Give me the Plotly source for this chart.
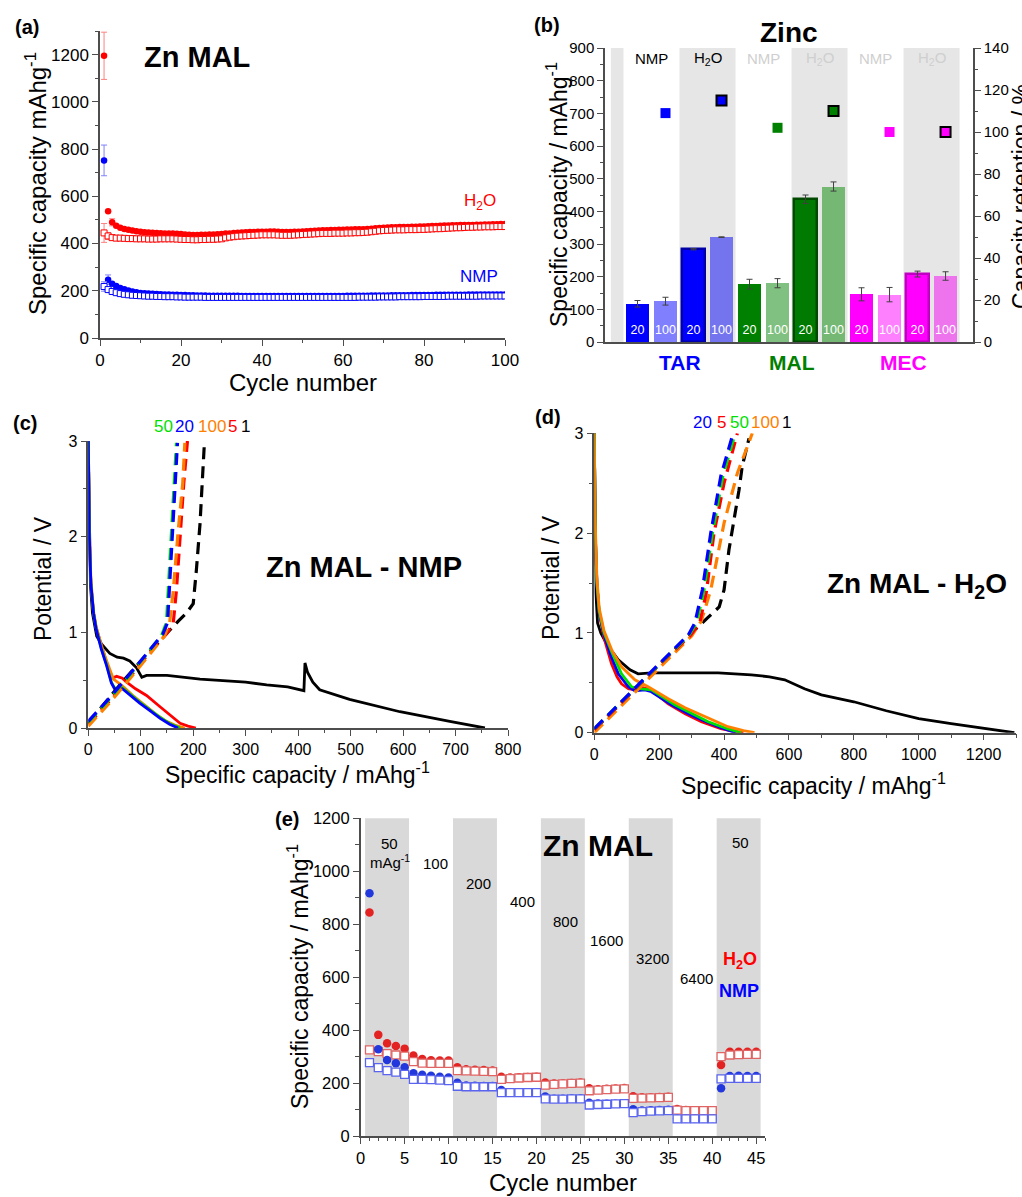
import plotly.graph_objects as go

W, H = 1022, 1197
FONT = "Liberation Sans, Arial, sans-serif"


def px(x):
    return x / W


def py(y):
    return 1 - y / H


# ---------------- (a) long cycling, Zn MAL ----------------
a_cycles = list(range(1, 101))
a_h2o_dis = [1195, 537, 490, 475, 467, 462, 458, 455, 452, 450,
             448, 447, 446, 445, 444, 443, 443, 442, 441, 440,
             438, 437, 436, 436, 437, 437, 438, 438, 439, 440,
             442, 443, 445, 446, 447, 448, 449, 449, 450, 450,
             450, 451, 451, 450, 449, 449, 449, 450, 450, 451,
             452, 453, 454, 455, 456, 456, 457, 457, 458, 458,
             459, 459, 460, 460, 461, 462, 463, 465, 466, 467,
             468, 469, 469, 470, 470, 470, 471, 471, 472, 472,
             473, 474, 474, 475, 476, 476, 477, 477, 478, 478,
             479, 479, 480, 480, 481, 481, 482, 482, 483, 483]
a_h2o_chg = [445, 432, 425, 423, 423, 422, 421, 421, 420, 420,
             420, 419, 419, 419, 420, 420, 420, 420, 419, 418,
             417, 417, 416, 416, 417, 417, 418, 418, 419, 420,
             424, 427, 429, 431, 432, 433, 434, 435, 436, 437,
             437, 437, 437, 436, 435, 435, 435, 436, 437, 438,
             439, 440, 441, 442, 443, 443, 443, 444, 444, 444,
             445, 445, 446, 446, 447, 448, 450, 452, 454, 455,
             456, 457, 458, 458, 458, 459, 459, 459, 460, 460,
             461, 462, 463, 463, 464, 465, 466, 467, 467, 468,
             469, 469, 470, 470, 471, 471, 471, 472, 472, 472]
a_nmp_dis = [752, 247, 230, 220, 212, 206, 201, 197, 194, 191,
             189, 188, 187, 186, 185, 184, 184, 183, 183, 182,
             182, 181, 181, 180, 180, 180, 179, 179, 179, 179,
             179, 179, 179, 179, 178, 178, 178, 178, 178, 178,
             178, 178, 178, 178, 178, 178, 178, 178, 178, 178,
             178, 178, 178, 178, 178, 178, 178, 178, 178, 178,
             179, 179, 179, 179, 179, 179, 180, 180, 180, 180,
             180, 181, 181, 181, 181, 181, 182, 182, 182, 182,
             182, 182, 183, 183, 183, 183, 183, 183, 183, 183,
             184, 184, 184, 184, 184, 184, 184, 184, 184, 184]
a_nmp_chg = [218, 205, 197, 192, 188, 185, 183, 181, 180, 179,
             178, 177, 177, 176, 176, 175, 175, 175, 174, 174,
             173, 173, 173, 173, 173, 172, 172, 172, 172, 172,
             172, 172, 172, 172, 172, 172, 172, 172, 172, 172,
             172, 172, 172, 172, 172, 172, 172, 172, 172, 172,
             172, 172, 172, 172, 172, 172, 172, 172, 172, 172,
             172, 172, 172, 173, 173, 173, 173, 173, 174, 174,
             174, 174, 174, 175, 175, 175, 175, 175, 175, 176,
             176, 176, 176, 176, 176, 177, 177, 177, 177, 177,
             177, 177, 177, 178, 178, 178, 178, 178, 178, 178]
a_h2o_dis_err = [100, 0, 15]
a_h2o_chg_err = [40, 15, 10]
a_nmp_dis_err = [65, 20, 0]
a_nmp_chg_err = [20, 10, 0]

# ---------------- (b) Zinc bar chart ----------------
b_pos = [1, 2, 3, 4, 5, 6, 7, 8, 9, 10, 11, 12]
b_rate_labels = ["20", "100", "20", "100", "20", "100", "20", "100", "20", "100", "20", "100"]
b_capacity = [117, 125, 284, 321, 177, 180, 437, 476, 146, 145, 208, 202]
b_capacity_err = [10, 12, 2, 1, 15, 14, 13, 14, 20, 22, 9, 13]
b_colors = ["#0000FF", "#8080FF", "#0000FF", "#7474EE",
            "#008000", "#80C080", "#007A00", "#74B874",
            "#FF00FF", "#FF80FF", "#FF00FF", "#EE74EE"]
b_edge_colors = ["#0000FF", "#8080FF", "#0000A8", "#7474EE",
                 "#008000", "#80C080", "#004A00", "#74B874",
                 "#FF00FF", "#FF80FF", "#C000C0", "#EE74EE"]
b_edge_widths = [0, 0, 2.5, 0, 0, 0, 2.5, 0, 0, 0, 2.5, 0]
b_ret_pos_nmp = [2, 6, 10]
b_ret_nmp = [109, 102, 100]
b_ret_col_nmp = ["#0000FF", "#008000", "#FF00FF"]
b_ret_pos_h2o = [4, 8, 12]
b_ret_h2o = [115, 110, 100]
b_ret_col_h2o = ["#0000FF", "#008000", "#FF00FF"]
b_solvent_pos = [1.5, 3.5, 5.5, 7.5, 9.5, 11.5]
b_solvent = ["NMP", "H<sub>2</sub>O", "NMP", "H<sub>2</sub>O", "NMP", "H<sub>2</sub>O"]
b_solvent_col = ["#000000", "#000000", "#CFCFCF", "#CFCFCF", "#CFCFCF", "#CFCFCF"]
b_groups = ["TAR", "MAL", "MEC"]
b_group_pos = [2.5, 6.5, 10.5]
b_group_col = ["#0000FF", "#008000", "#FF00FF"]
b_bands = [(0.05, 0.5), (2.5, 4.5), (6.5, 8.5), (10.5, 12.5)]

# ---------------- (c) Zn MAL - NMP profiles ----------------
c_dis_1_x = [0, 1, 2, 4, 8, 16, 25, 41, 55, 67, 79, 92, 102, 111, 150, 213, 300, 340, 380, 411, 413, 418, 428, 441, 498, 594, 689, 756]
c_dis_1_y = [3.0, 2.6, 2.0, 1.5, 1.2, 0.96, 0.88, 0.78, 0.74, 0.73, 0.70, 0.63, 0.53, 0.55, 0.55, 0.51, 0.48, 0.45, 0.43, 0.39, 0.68, 0.58, 0.48, 0.40, 0.30, 0.17, 0.07, 0.0]
c_dis_5_x = [0, 2, 5, 10, 15, 25, 35, 45, 54, 65, 73, 90, 111, 135, 156, 175, 190, 205]
c_dis_5_y = [3.0, 2.0, 1.5, 1.2, 1.05, 0.85, 0.68, 0.52, 0.54, 0.52, 0.48, 0.41, 0.34, 0.23, 0.14, 0.05, 0.02, 0.0]
c_dis_20_x = [0, 2, 5, 10, 15, 25, 35, 44, 50, 58, 65, 80, 98, 120, 137, 155, 171]
c_dis_20_y = [3.0, 2.0, 1.5, 1.2, 1.03, 0.82, 0.65, 0.47, 0.41, 0.40, 0.41, 0.34, 0.26, 0.17, 0.10, 0.04, 0.0]
c_dis_50_x = [0, 2, 5, 10, 15, 25, 35, 44, 50, 58, 65, 80, 98, 120, 137, 157, 175]
c_dis_50_y = [3.0, 2.0, 1.5, 1.2, 1.04, 0.83, 0.66, 0.48, 0.42, 0.41, 0.42, 0.35, 0.27, 0.18, 0.11, 0.04, 0.0]
c_dis_100_x = [0, 2, 5, 10, 15, 25, 35, 48, 60, 67, 85, 111, 130, 149, 165, 184]
c_dis_100_y = [3.0, 2.1, 1.55, 1.22, 1.06, 0.86, 0.70, 0.51, 0.46, 0.43, 0.34, 0.22, 0.14, 0.07, 0.03, 0.0]
c_chg_1_x = [0, 30, 60, 100, 130, 156, 172, 187, 200, 206, 213, 217, 221]
c_chg_1_y = [0.05, 0.25, 0.45, 0.70, 0.88, 1.03, 1.12, 1.20, 1.30, 1.65, 2.14, 2.55, 2.95]
c_chg_5_x = [0, 40, 80, 120, 150, 162, 168, 175, 182, 189]
c_chg_5_y = [0.04, 0.28, 0.54, 0.81, 0.99, 1.10, 1.44, 2.04, 2.56, 3.0]
c_chg_20_x = [0, 40, 80, 120, 142, 151, 156, 161, 165, 170]
c_chg_20_y = [0.07, 0.31, 0.57, 0.84, 0.98, 1.10, 1.58, 2.04, 2.52, 2.98]
c_chg_50_x = [0, 40, 80, 120, 140, 149, 154, 159, 163, 168]
c_chg_50_y = [0.06, 0.30, 0.56, 0.83, 0.97, 1.10, 1.58, 2.04, 2.52, 2.98]
c_chg_100_x = [0, 40, 80, 120, 145, 155, 162, 171, 180, 184]
c_chg_100_y = [0.02, 0.26, 0.52, 0.79, 0.96, 1.10, 1.44, 2.04, 2.56, 2.98]
c_cycle_labels = ["50", "20", "100", "5", "1"]

# ---------------- (d) Zn MAL - H2O profiles ----------------
d_dis_1_x = [0, 2, 5, 10, 20, 40, 74, 110, 135, 176, 300, 382, 484, 540, 587, 648, 700, 800, 900, 1000, 1100, 1200, 1260, 1295]
d_dis_1_y = [3.0, 2.0, 1.4, 1.1, 1.0, 0.88, 0.73, 0.63, 0.59, 0.60, 0.60, 0.60, 0.58, 0.56, 0.53, 0.44, 0.38, 0.31, 0.22, 0.14, 0.09, 0.04, 0.015, 0.0]
d_dis_5_x = [0, 3, 8, 15, 30, 53, 70, 84, 105, 125, 150, 175, 228, 280, 330, 390, 443, 460]
d_dis_5_y = [3.0, 2.0, 1.5, 1.2, 0.95, 0.69, 0.56, 0.49, 0.44, 0.43, 0.45, 0.43, 0.29, 0.19, 0.11, 0.04, 0.005, 0.0]
d_dis_20_x = [0, 3, 8, 15, 30, 50, 74, 105, 125, 156, 176, 238, 290, 330, 390, 436]
d_dis_20_y = [3.0, 2.0, 1.5, 1.2, 0.98, 0.78, 0.59, 0.46, 0.42, 0.43, 0.41, 0.28, 0.19, 0.13, 0.05, 0.0]
d_dis_50_x = [0, 3, 8, 15, 30, 55, 84, 115, 146, 176, 248, 300, 351, 410, 453]
d_dis_50_y = [3.0, 2.0, 1.5, 1.22, 1.0, 0.80, 0.59, 0.46, 0.44, 0.43, 0.28, 0.19, 0.11, 0.04, 0.0]
d_dis_100_x = [0, 3, 8, 15, 30, 55, 84, 125, 166, 228, 280, 330, 370, 412, 460, 494]
d_dis_100_y = [3.0, 2.1, 1.55, 1.25, 1.02, 0.82, 0.66, 0.53, 0.46, 0.34, 0.25, 0.18, 0.12, 0.06, 0.02, 0.0]
d_chg_1_x = [0, 100, 200, 280, 318, 349, 385, 400, 415, 426, 446, 456, 477]
d_chg_1_y = [0.03, 0.35, 0.68, 0.94, 1.05, 1.15, 1.26, 1.43, 1.83, 2.03, 2.43, 2.67, 2.95]
d_chg_5_x = [0, 100, 200, 295, 325, 345, 369, 400, 430, 441]
d_chg_5_y = [0.03, 0.35, 0.68, 0.97, 1.10, 1.40, 2.0, 2.5, 2.85, 3.0]
d_chg_20_x = [0, 100, 200, 290, 310, 333, 359, 390, 420, 428]
d_chg_20_y = [0.04, 0.36, 0.69, 0.98, 1.10, 1.43, 2.0, 2.57, 2.93, 3.0]
d_chg_50_x = [0, 100, 200, 292, 315, 338, 364, 396, 428, 436]
d_chg_50_y = [0.04, 0.36, 0.69, 0.98, 1.10, 1.43, 2.0, 2.57, 2.93, 3.0]
d_chg_100_x = [0, 100, 200, 300, 330, 359, 400, 441, 470, 487]
d_chg_100_y = [0.0, 0.32, 0.65, 0.97, 1.12, 1.43, 2.1, 2.6, 2.85, 3.0]
d_cycle_labels = ["20", "5", "50", "100", "1"]

# ---------------- (e) rate capability ----------------
e_cycles = list(range(1, 46))
e_h2o_dis = [844, 382, 350, 340, 330, 304, 291, 286, 285, 285, 260, 252, 250, 249, 247,
             224, 221, 222, 223, 224, 202, 198, 199, 200, 202, 180, 177, 178, 179, 181,
             150, 146, 146, 147, 148, 102, 98, 97, 97, 97, 268, 318, 318, 318, 318]
e_h2o_chg = [325, 319, 311, 306, 302, 281, 275, 274, 274, 274, 247, 246, 245, 244, 243,
             214, 217, 219, 221, 222, 192, 195, 197, 199, 200, 171, 173, 175, 177, 178,
             142, 143, 144, 145, 146, 98, 96, 96, 96, 96, 300, 306, 307, 308, 308]
e_nmp_dis = [917, 328, 287, 275, 260, 237, 231, 228, 224, 221, 201, 191, 190, 189, 189,
             174, 165, 165, 165, 165, 149, 141, 141, 142, 142, 126, 123, 122, 122, 123,
             101, 96, 97, 98, 99, 66, 65, 65, 65, 65, 180, 227, 228, 227, 227]
e_nmp_chg = [277, 258, 247, 241, 233, 214, 214, 213, 211, 209, 188, 186, 186, 186, 186,
             164, 164, 164, 164, 164, 140, 139, 139, 140, 140, 117, 119, 120, 121, 122,
             88, 92, 94, 95, 96, 65, 65, 65, 65, 65, 216, 218, 218, 218, 218]
e_bands = [(0.5, 5.5), (10.5, 15.5), (20.5, 25.5), (30.5, 35.5), (40.5, 45.5)]
e_rate_text = ["50", "mAg<sup>-1</sup>", "100", "200", "400", "800", "1600", "3200", "6400", "50"]
e_rate_x = [3.26, 3.3, 8.5, 13.4, 18.4, 23.3, 28.0, 33.2, 38.2, 43.2]
e_rate_y = [1106, 1036, 1030, 955, 885, 810, 738, 669, 596, 1108]

RED, BLUE, GREEN, ORANGE = "#FF0000", "#0000FF", "#00E000", "#FF8000"

fig = go.Figure()

# ---- (a) ----
fig.add_trace(go.Scatter(x=a_cycles, y=a_h2o_dis, mode="markers", xaxis="x", yaxis="y",
                         marker=dict(symbol="circle", size=6.5, color=RED),
                         error_y=dict(type="data", array=a_h2o_dis_err, color="#FF8080", thickness=1, width=3)))
fig.add_trace(go.Scatter(x=a_cycles, y=a_h2o_chg, mode="markers", xaxis="x", yaxis="y",
                         marker=dict(symbol="square", size=6, color="white", line=dict(color=RED, width=1)),
                         error_y=dict(type="data", array=a_h2o_chg_err, color="#FF8080", thickness=1, width=3)))
fig.add_trace(go.Scatter(x=a_cycles, y=a_nmp_dis, mode="markers", xaxis="x", yaxis="y",
                         marker=dict(symbol="circle", size=6.5, color=BLUE),
                         error_y=dict(type="data", array=a_nmp_dis_err, color="#8080FF", thickness=1, width=3)))
fig.add_trace(go.Scatter(x=a_cycles, y=a_nmp_chg, mode="markers", xaxis="x", yaxis="y",
                         marker=dict(symbol="square", size=6, color="white", line=dict(color=BLUE, width=1)),
                         error_y=dict(type="data", array=a_nmp_chg_err, color="#8080FF", thickness=1, width=3)))

# ---- (b) ----
fig.add_trace(go.Bar(x=b_pos, y=b_capacity, width=0.8, xaxis="x2", yaxis="y2",
                     marker=dict(color=b_colors, line=dict(color=b_edge_colors, width=b_edge_widths)),
                     error_y=dict(type="data", array=b_capacity_err, color="#404040", thickness=1, width=3)))
fig.add_trace(go.Scatter(x=b_pos, y=[33] * len(b_pos), mode="text", text=b_rate_labels, xaxis="x2", yaxis="y2",
                         textfont=dict(size=12.5, color="white", family=FONT)))
fig.add_trace(go.Scatter(x=b_ret_pos_nmp, y=b_ret_nmp, mode="markers", xaxis="x2", yaxis="y3",
                         marker=dict(symbol="square", size=10, color=b_ret_col_nmp, line=dict(width=0))))
fig.add_trace(go.Scatter(x=b_ret_pos_h2o, y=b_ret_h2o, mode="markers", xaxis="x2", yaxis="y3",
                         marker=dict(symbol="square", size=10, color=b_ret_col_h2o, line=dict(color="black", width=2))))

# ---- (c) & (d) ----
def profile(x, y, color, dashed, xa, ya):
    return go.Scatter(x=x, y=y, mode="lines", xaxis=xa, yaxis=ya,
                      line=dict(color=color, width=3.2 if dashed else 2.8,
                                dash="12px,7px" if dashed else "solid"))

for xs, ys, col in [(c_dis_1_x, c_dis_1_y, "black"), (c_dis_5_x, c_dis_5_y, RED),
                    (c_dis_100_x, c_dis_100_y, ORANGE), (c_dis_50_x, c_dis_50_y, GREEN),
                    (c_dis_20_x, c_dis_20_y, BLUE)]:
    fig.add_trace(profile(xs, ys, col, False, "x3", "y4"))
for xs, ys, col in [(c_chg_1_x, c_chg_1_y, "black"), (c_chg_5_x, c_chg_5_y, RED),
                    (c_chg_100_x, c_chg_100_y, ORANGE), (c_chg_50_x, c_chg_50_y, GREEN),
                    (c_chg_20_x, c_chg_20_y, BLUE)]:
    fig.add_trace(profile(xs, ys, col, True, "x3", "y4"))

for xs, ys, col in [(d_dis_1_x, d_dis_1_y, "black"), (d_dis_5_x, d_dis_5_y, RED),
                    (d_dis_20_x, d_dis_20_y, BLUE), (d_dis_50_x, d_dis_50_y, GREEN),
                    (d_dis_100_x, d_dis_100_y, ORANGE)]:
    fig.add_trace(profile(xs, ys, col, False, "x4", "y5"))
for xs, ys, col in [(d_chg_1_x, d_chg_1_y, "black"), (d_chg_100_x, d_chg_100_y, ORANGE),
                    (d_chg_5_x, d_chg_5_y, RED), (d_chg_50_x, d_chg_50_y, GREEN),
                    (d_chg_20_x, d_chg_20_y, BLUE)]:
    fig.add_trace(profile(xs, ys, col, True, "x4", "y5"))

# ---- (e) ----
fig.add_trace(go.Scatter(x=e_cycles, y=e_h2o_dis, mode="markers", xaxis="x5", yaxis="y6",
                         marker=dict(symbol="circle", size=8.5, color="#E32222")))
fig.add_trace(go.Scatter(x=e_cycles, y=e_h2o_chg, mode="markers", xaxis="x5", yaxis="y6",
                         marker=dict(symbol="square", size=8, color="white", line=dict(color="#E06464", width=1.3))))
fig.add_trace(go.Scatter(x=e_cycles, y=e_nmp_dis, mode="markers", xaxis="x5", yaxis="y6",
                         marker=dict(symbol="circle", size=8.5, color="#2238DD")))
fig.add_trace(go.Scatter(x=e_cycles, y=e_nmp_chg, mode="markers", xaxis="x5", yaxis="y6",
                         marker=dict(symbol="square", size=8, color="white", line=dict(color="#5A64EE", width=1.3))))

# ---------------- shapes ----------------
shapes = []
for x0, x1 in b_bands:
    shapes.append(dict(type="rect", xref="x2", yref="y2 domain", x0=x0, x1=x1, y0=0, y1=1,
                       fillcolor="#E6E6E6", line=dict(width=0), layer="below"))
for x0, x1 in e_bands:
    shapes.append(dict(type="rect", xref="x5", yref="y6 domain", x0=x0, x1=x1, y0=0, y1=1,
                       fillcolor="#D9D9D9", line=dict(width=0), layer="below"))

# ---------------- annotations ----------------
ann = []


def note(text, x, y, size, color="black", bold=False, angle=0):
    ann.append(dict(text=f"<b>{text}</b>" if bold else text, x=px(x), y=py(y), xref="paper", yref="paper",
                    showarrow=False, textangle=angle, xanchor="center", yanchor="middle",
                    font=dict(size=size, color=color, family=FONT)))


def dnote(text, x, y, xref, yref, size, color="black", bold=False):
    ann.append(dict(text=f"<b>{text}</b>" if bold else text, x=x, y=y, xref=xref, yref=yref,
                    showarrow=False, xanchor="center", yanchor="middle",
                    font=dict(size=size, color=color, family=FONT)))


# panel letters
note("(a)", 27, 27, 20, bold=True)
note("(b)", 547, 25, 20, bold=True)
note("(c)", 25, 423, 20, bold=True)
note("(d)", 548, 417, 20, bold=True)
note("(e)", 287, 819, 20, bold=True)

# (a)
note("Specific capacity mAhg<sup>-1</sup>", 36, 184, 24, angle=-90)
note("Cycle number", 303, 383, 24)
note("Zn MAL", 197, 57, 29, bold=True)
note("H<sub>2</sub>O", 480, 202, 17, color=RED)
note("NMP", 479, 276, 17, color=BLUE)

# (b)
note("Specific capacity / mAhg<sup>-1</sup>", 557, 195, 23, angle=-90)
note("Capacity retention / %", 1021, 197, 23, angle=-90)
note("Zinc", 789, 32, 28, bold=True)
for t, xp, c in zip(b_solvent, b_solvent_pos, b_solvent_col):
    dnote(t, xp, 868, "x2", "y2", 15, color=c)
for t, xp, c in zip(b_groups, b_group_pos, b_group_col):
    ann.append(dict(text=f"<b>{t}</b>", x=xp, y=py(363), xref="x2", yref="paper", showarrow=False,
                    xanchor="center", yanchor="middle", font=dict(size=21, color=c, family=FONT)))

# (c)
note("Potential / V", 43, 579, 23, angle=-90)
note("Specific capacity / mAhg<sup>-1</sup>", 297, 773, 23)
note("Zn MAL - NMP", 364, 567, 29, bold=True)
for t, xx, c in zip(c_cycle_labels, [163, 184, 212, 232, 245], [GREEN, BLUE, ORANGE, RED, "black"]):
    note(t, xx, 427, 17, color=c)

# (d)
note("Potential / V", 551, 578, 23, angle=-90)
note("Specific capacity / mAhg<sup>-1</sup>", 813, 784, 23)
note("Zn MAL - H<sub>2</sub>O", 917, 585, 28, bold=True)
for t, xx, c in zip(d_cycle_labels, [702, 721, 739, 765, 786], [BLUE, RED, GREEN, ORANGE, "black"]):
    note(t, xx, 422, 17, color=c)

# (e)
note("Specific capacity / mAhg<sup>-1</sup>", 298, 977, 23, angle=-90)
note("Cycle number", 563, 1182, 24)
note("Zn MAL", 598, 845, 30, bold=True)
for t, xx, yy in zip(e_rate_text, e_rate_x, e_rate_y):
    dnote(t, xx, yy, "x5", "y6", 15)
dnote("H<sub>2</sub>O", 43.1, 662, "x5", "y6", 18, color="#FF0000", bold=True)
dnote("NMP", 43.0, 549, "x5", "y6", 18, color="#0000FF", bold=True)


# ---------------- axes ----------------
def ax(size=16, **kw):
    d = dict(showline=True, linecolor="#4D4D4D", linewidth=1.5, ticks="outside", ticklen=6,
             tickwidth=1.4, tickcolor="#4D4D4D", showgrid=False, zeroline=False,
             tickfont=dict(size=size, family=FONT, color="black"), automargin=False)
    d.update(kw)
    return d


def mnr(step):
    return dict(dtick=step, ticks="outside", ticklen=3.5, tickwidth=1.2, tickcolor="#4D4D4D", showgrid=False)


fig.update_layout(
    width=W, height=H, margin=dict(l=0, r=0, t=0, b=0), autosize=False,
    paper_bgcolor="white", plot_bgcolor="rgba(0,0,0,0)", showlegend=False, bargap=0,
    font=dict(family=FONT, color="black"),
    xaxis=ax(17, domain=[px(100), px(505)], range=[0, 100], dtick=20, tick0=0, minor=mnr(10), anchor="y"),
    yaxis=ax(17, domain=[py(338), py(31)], range=[0, 1300], dtick=200, tick0=0, minor=mnr(100), anchor="x"),
    xaxis2=ax(15, domain=[px(605), px(973)], range=[-0.16, 12.98], showticklabels=False, ticks="", anchor="y2"),
    yaxis2=ax(15, domain=[py(342), py(48)], range=[0, 900], dtick=100, tick0=0, minor=mnr(50), anchor="x2"),
    yaxis3=ax(15, range=[0, 140], dtick=20, tick0=0, minor=mnr(10), anchor="x2", overlaying="y2", side="right"),
    xaxis3=ax(16, domain=[px(88.3), px(508)], range=[0, 800], dtick=100, tick0=0, minor=mnr(50), anchor="y4"),
    yaxis4=ax(16, domain=[py(728), py(441)], range=[0, 3], dtick=1, tick0=0, minor=mnr(0.5), anchor="x3"),
    xaxis4=ax(16, domain=[px(594.3), px(1016)], range=[0, 1300], dtick=200, tick0=0, minor=mnr(100), anchor="y5"),
    yaxis5=ax(16, domain=[py(732.7), py(433.3)], range=[0, 3], dtick=1, tick0=0, minor=mnr(0.5), anchor="x4"),
    xaxis5=ax(16.5, domain=[px(360.7), px(765)], range=[0, 46], dtick=5, tick0=0, minor=mnr(1), anchor="y6"),
    yaxis6=ax(16.5, domain=[py(1136), py(818.3)], range=[0, 1200], dtick=200, tick0=0, minor=mnr(100), anchor="x5"),
    shapes=shapes,
    annotations=ann,
)

fig.write_html("out.html")
